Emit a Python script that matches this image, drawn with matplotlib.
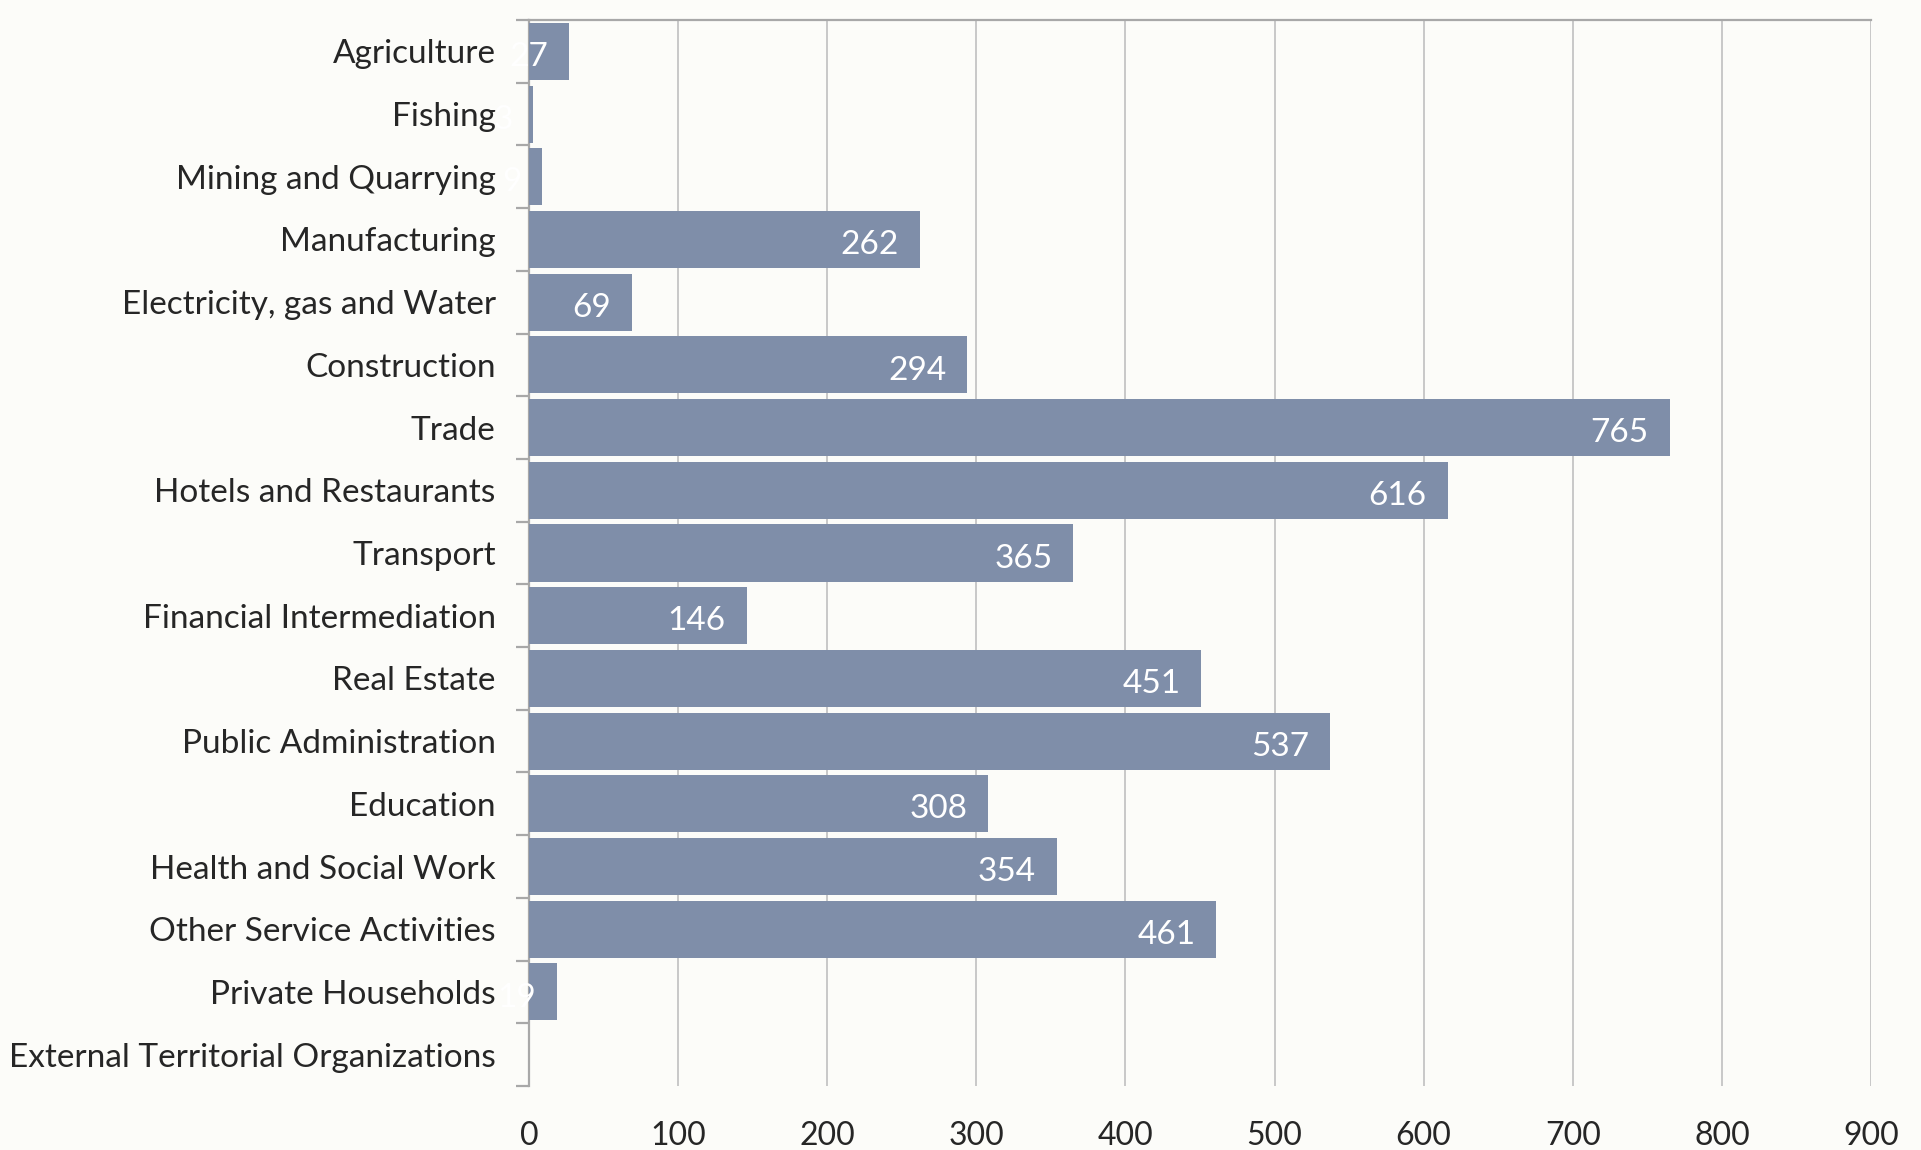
import numpy as np
import matplotlib.pyplot as plt
from matplotlib.ticker import FixedLocator

categories = [
    "Agriculture", "Fishing", "Mining and Quarrying", "Manufacturing",
    "Electricity, gas and Water", "Construction", "Trade",
    "Hotels and Restaurants", "Transport", "Financial Intermediation",
    "Real Estate", "Public Administration", "Education",
    "Health and Social Work", "Other Service Activities",
    "Private Households", "External Territorial Organizations",
]
values = [27, 3, 9, 262, 69, 294, 765, 616, 365, 146, 451, 537, 308, 354, 461, 19, 0]
xticks = [0, 100, 200, 300, 400, 500, 600, 700, 800, 900]

BAR = "#7f8ea9"
GRID = "#c4c4c4"
TEXT = "#262626"

plt.rcParams["font.family"] = ["Lato", "DejaVu Sans"]

fig = plt.figure(figsize=(19.21, 11.5), dpi=100, facecolor="#fcfcf9")
ax = fig.add_axes([529 / 1921, 1 - 1086 / 1150, (1871 - 529) / 1921, (1086 - 20) / 1150])
ax.set_facecolor("none")

y = np.arange(len(categories))
ax.barh(y, values, height=0.91, color=BAR, zorder=3)

# value labels sit inside the bar end, white
for yi, v in zip(y, values):
    if v > 0:
        ax.text(v - 14, yi + 0.09, str(v), ha="right", va="center",
                color="white", fontsize=24, zorder=4, clip_on=False)

ax.set_xlim(0, 900)
ax.set_ylim(len(categories) - 0.5, -0.5)
ax.set_xticks(xticks)
ax.set_xticklabels([str(t) for t in xticks])
ax.set_yticks(y)
ax.set_yticklabels(categories)
ax.yaxis.set_minor_locator(FixedLocator(np.arange(-0.5, len(categories), 1)))

ax.tick_params(axis="x", length=0, pad=25, labelsize=23, labelcolor=TEXT)
ax.tick_params(axis="y", which="major", length=0, pad=24, labelsize=24, labelcolor=TEXT)
ax.tick_params(axis="y", which="minor", length=9.5, width=1.6, color="#a8a8a8")

ax.grid(axis="x", color=GRID, linewidth=1.3, zorder=0)
for s in ["right", "bottom"]:
    ax.spines[s].set_visible(False)
ax.spines["left"].set_color("#a8a8a8")
ax.spines["left"].set_linewidth(1.6)
ax.spines["top"].set_color("#a8a8a8")
ax.spines["top"].set_linewidth(1.6)

fig.savefig("out.png", dpi=100, facecolor=fig.get_facecolor())
